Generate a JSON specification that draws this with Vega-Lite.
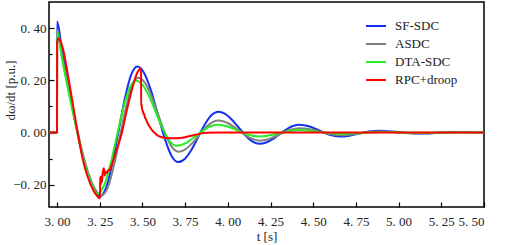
{
  "$schema": "https://vega.github.io/schema/vega-lite/v6.json",
  "autosize": "none",
  "width": 435,
  "height": 205,
  "padding": {"left": 49, "top": 2, "right": 21, "bottom": 38},
  "background": "white",
  "config": {
    "view": {"stroke": "black", "strokeWidth": 1.5},
    "font": "Liberation Serif, DejaVu Serif, serif",
    "axis": {
      "domain": false,
      "grid": false,
      "tickColor": "black",
      "tickWidth": 1.2,
      "labelFont": "Liberation Serif, DejaVu Serif, serif",
      "labelFontSize": 13,
      "labelColor": "#222222",
      "titleFont": "Liberation Serif, DejaVu Serif, serif",
      "titleFontSize": 13,
      "titleFontWeight": "normal",
      "titleColor": "#222222"
    },
    "legend": {
      "labelFont": "Liberation Serif, DejaVu Serif, serif",
      "labelFontSize": 13,
      "labelColor": "#222222"
    }
  },
  "data": {
    "values": [
      {"s": "SF-SDC", "t": 2.953, "v": 0},
      {"s": "SF-SDC", "t": 3.0, "v": 0},
      {"s": "SF-SDC", "t": 3.0005, "v": 0.425},
      {"s": "SF-SDC", "t": 3.03, "v": 0.31},
      {"s": "SF-SDC", "t": 3.06, "v": 0.2},
      {"s": "SF-SDC", "t": 3.09, "v": 0.095},
      {"s": "SF-SDC", "t": 3.12, "v": 0.0},
      {"s": "SF-SDC", "t": 3.15, "v": -0.085},
      {"s": "SF-SDC", "t": 3.18, "v": -0.155},
      {"s": "SF-SDC", "t": 3.21, "v": -0.207},
      {"s": "SF-SDC", "t": 3.235, "v": -0.236},
      {"s": "SF-SDC", "t": 3.25, "v": -0.245},
      {"s": "SF-SDC", "t": 3.2867, "v": -0.2116},
      {"s": "SF-SDC", "t": 3.3233, "v": -0.1205},
      {"s": "SF-SDC", "t": 3.36, "v": 0.004},
      {"s": "SF-SDC", "t": 3.3967, "v": 0.1285},
      {"s": "SF-SDC", "t": 3.4333, "v": 0.2196},
      {"s": "SF-SDC", "t": 3.47, "v": 0.253},
      {"s": "SF-SDC", "t": 3.51, "v": 0.2285},
      {"s": "SF-SDC", "t": 3.55, "v": 0.1615},
      {"s": "SF-SDC", "t": 3.59, "v": 0.07},
      {"s": "SF-SDC", "t": 3.63, "v": -0.0215},
      {"s": "SF-SDC", "t": 3.67, "v": -0.0885},
      {"s": "SF-SDC", "t": 3.71, "v": -0.113},
      {"s": "SF-SDC", "t": 3.749, "v": -0.1001},
      {"s": "SF-SDC", "t": 3.788, "v": -0.0648},
      {"s": "SF-SDC", "t": 3.827, "v": -0.0165},
      {"s": "SF-SDC", "t": 3.866, "v": 0.0318},
      {"s": "SF-SDC", "t": 3.905, "v": 0.0671},
      {"s": "SF-SDC", "t": 3.944, "v": 0.08},
      {"s": "SF-SDC", "t": 3.984, "v": 0.0718},
      {"s": "SF-SDC", "t": 4.024, "v": 0.0493},
      {"s": "SF-SDC", "t": 4.065, "v": 0.0185},
      {"s": "SF-SDC", "t": 4.105, "v": -0.0123},
      {"s": "SF-SDC", "t": 4.145, "v": -0.0348},
      {"s": "SF-SDC", "t": 4.185, "v": -0.043},
      {"s": "SF-SDC", "t": 4.224, "v": -0.0381},
      {"s": "SF-SDC", "t": 4.263, "v": -0.0248},
      {"s": "SF-SDC", "t": 4.3025, "v": -0.0065},
      {"s": "SF-SDC", "t": 4.342, "v": 0.0118},
      {"s": "SF-SDC", "t": 4.381, "v": 0.0251},
      {"s": "SF-SDC", "t": 4.42, "v": 0.03},
      {"s": "SF-SDC", "t": 4.479, "v": 0.0234},
      {"s": "SF-SDC", "t": 4.5375, "v": 0.0075},
      {"s": "SF-SDC", "t": 4.596, "v": -0.0084},
      {"s": "SF-SDC", "t": 4.655, "v": -0.015},
      {"s": "SF-SDC", "t": 4.7125, "v": -0.0118},
      {"s": "SF-SDC", "t": 4.77, "v": -0.004},
      {"s": "SF-SDC", "t": 4.8275, "v": 0.0038},
      {"s": "SF-SDC", "t": 4.885, "v": 0.007},
      {"s": "SF-SDC", "t": 4.944, "v": 0.0054},
      {"s": "SF-SDC", "t": 5.0025, "v": 0.0015},
      {"s": "SF-SDC", "t": 5.061, "v": -0.0024},
      {"s": "SF-SDC", "t": 5.12, "v": -0.004},
      {"s": "SF-SDC", "t": 5.179, "v": -0.0032},
      {"s": "SF-SDC", "t": 5.235, "v": -0.001},
      {"s": "SF-SDC", "t": 5.292, "v": 0.0012},
      {"s": "SF-SDC", "t": 5.35, "v": 0.002},
      {"s": "SF-SDC", "t": 5.43, "v": 0.001},
      {"s": "SF-SDC", "t": 5.5, "v": 0},

      {"s": "ASDC", "t": 2.953, "v": 0},
      {"s": "ASDC", "t": 3.0, "v": 0},
      {"s": "ASDC", "t": 3.0005, "v": 0.395},
      {"s": "ASDC", "t": 3.03, "v": 0.29},
      {"s": "ASDC", "t": 3.06, "v": 0.19},
      {"s": "ASDC", "t": 3.09, "v": 0.095},
      {"s": "ASDC", "t": 3.12, "v": 0.005},
      {"s": "ASDC", "t": 3.15, "v": -0.08},
      {"s": "ASDC", "t": 3.18, "v": -0.148},
      {"s": "ASDC", "t": 3.21, "v": -0.2},
      {"s": "ASDC", "t": 3.24, "v": -0.232},
      {"s": "ASDC", "t": 3.262, "v": -0.24},
      {"s": "ASDC", "t": 3.2975, "v": -0.2099},
      {"s": "ASDC", "t": 3.333, "v": -0.1275},
      {"s": "ASDC", "t": 3.3685, "v": -0.015},
      {"s": "ASDC", "t": 3.404, "v": 0.0975},
      {"s": "ASDC", "t": 3.4395, "v": 0.1799},
      {"s": "ASDC", "t": 3.475, "v": 0.21},
      {"s": "ASDC", "t": 3.514, "v": 0.191},
      {"s": "ASDC", "t": 3.553, "v": 0.1393},
      {"s": "ASDC", "t": 3.5925, "v": 0.0685},
      {"s": "ASDC", "t": 3.632, "v": -0.0023},
      {"s": "ASDC", "t": 3.671, "v": -0.054},
      {"s": "ASDC", "t": 3.71, "v": -0.073},
      {"s": "ASDC", "t": 3.749, "v": -0.065},
      {"s": "ASDC", "t": 3.788, "v": -0.0433},
      {"s": "ASDC", "t": 3.827, "v": -0.0135},
      {"s": "ASDC", "t": 3.866, "v": 0.0163},
      {"s": "ASDC", "t": 3.905, "v": 0.038},
      {"s": "ASDC", "t": 3.944, "v": 0.046},
      {"s": "ASDC", "t": 4.004, "v": 0.0347},
      {"s": "ASDC", "t": 4.065, "v": 0.0075},
      {"s": "ASDC", "t": 4.125, "v": -0.0197},
      {"s": "ASDC", "t": 4.185, "v": -0.031},
      {"s": "ASDC", "t": 4.244, "v": -0.024},
      {"s": "ASDC", "t": 4.3025, "v": -0.007},
      {"s": "ASDC", "t": 4.361, "v": 0.01},
      {"s": "ASDC", "t": 4.42, "v": 0.017},
      {"s": "ASDC", "t": 4.479, "v": 0.0131},
      {"s": "ASDC", "t": 4.5375, "v": 0.0035},
      {"s": "ASDC", "t": 4.596, "v": -0.006},
      {"s": "ASDC", "t": 4.655, "v": -0.01},
      {"s": "ASDC", "t": 4.7125, "v": -0.008},
      {"s": "ASDC", "t": 4.77, "v": -0.003},
      {"s": "ASDC", "t": 4.8275, "v": 0.002},
      {"s": "ASDC", "t": 4.885, "v": 0.004},
      {"s": "ASDC", "t": 5.0, "v": 0.0005},
      {"s": "ASDC", "t": 5.12, "v": -0.003},
      {"s": "ASDC", "t": 5.235, "v": -0.001},
      {"s": "ASDC", "t": 5.35, "v": 0.001},
      {"s": "ASDC", "t": 5.5, "v": 0},

      {"s": "DTA-SDC", "t": 2.953, "v": 0},
      {"s": "DTA-SDC", "t": 3.0, "v": 0},
      {"s": "DTA-SDC", "t": 3.0005, "v": 0.385},
      {"s": "DTA-SDC", "t": 3.03, "v": 0.28},
      {"s": "DTA-SDC", "t": 3.06, "v": 0.18},
      {"s": "DTA-SDC", "t": 3.09, "v": 0.085},
      {"s": "DTA-SDC", "t": 3.12, "v": -0.005},
      {"s": "DTA-SDC", "t": 3.15, "v": -0.09},
      {"s": "DTA-SDC", "t": 3.18, "v": -0.16},
      {"s": "DTA-SDC", "t": 3.21, "v": -0.21},
      {"s": "DTA-SDC", "t": 3.235, "v": -0.235},
      {"s": "DTA-SDC", "t": 3.2728, "v": -0.206},
      {"s": "DTA-SDC", "t": 3.3107, "v": -0.1268},
      {"s": "DTA-SDC", "t": 3.3485, "v": -0.0185},
      {"s": "DTA-SDC", "t": 3.3863, "v": 0.0898},
      {"s": "DTA-SDC", "t": 3.4242, "v": 0.169},
      {"s": "DTA-SDC", "t": 3.462, "v": 0.198},
      {"s": "DTA-SDC", "t": 3.5017, "v": 0.1814},
      {"s": "DTA-SDC", "t": 3.5413, "v": 0.136},
      {"s": "DTA-SDC", "t": 3.581, "v": 0.074},
      {"s": "DTA-SDC", "t": 3.6207, "v": 0.012},
      {"s": "DTA-SDC", "t": 3.6603, "v": -0.0334},
      {"s": "DTA-SDC", "t": 3.70, "v": -0.05},
      {"s": "DTA-SDC", "t": 3.76, "v": -0.0383},
      {"s": "DTA-SDC", "t": 3.82, "v": -0.01},
      {"s": "DTA-SDC", "t": 3.88, "v": 0.0183},
      {"s": "DTA-SDC", "t": 3.94, "v": 0.03},
      {"s": "DTA-SDC", "t": 4.0, "v": 0.0234},
      {"s": "DTA-SDC", "t": 4.06, "v": 0.0075},
      {"s": "DTA-SDC", "t": 4.12, "v": -0.0084},
      {"s": "DTA-SDC", "t": 4.18, "v": -0.015},
      {"s": "DTA-SDC", "t": 4.24, "v": -0.0113},
      {"s": "DTA-SDC", "t": 4.30, "v": -0.0025},
      {"s": "DTA-SDC", "t": 4.36, "v": 0.0063},
      {"s": "DTA-SDC", "t": 4.42, "v": 0.01},
      {"s": "DTA-SDC", "t": 4.4788, "v": 0.0066},
      {"s": "DTA-SDC", "t": 4.5375, "v": 0.0025},
      {"s": "DTA-SDC", "t": 4.596, "v": -0.0015},
      {"s": "DTA-SDC", "t": 4.655, "v": -0.005},
      {"s": "DTA-SDC", "t": 4.78, "v": -0.0015},
      {"s": "DTA-SDC", "t": 4.9, "v": 0.002},
      {"s": "DTA-SDC", "t": 5.1, "v": -0.001},
      {"s": "DTA-SDC", "t": 5.3, "v": 0},
      {"s": "DTA-SDC", "t": 5.5, "v": 0},

      {"s": "RPC+droop", "t": 2.953, "v": 0},
      {"s": "RPC+droop", "t": 3.0, "v": 0},
      {"s": "RPC+droop", "t": 3.0005, "v": 0.345},
      {"s": "RPC+droop", "t": 3.01, "v": 0.362},
      {"s": "RPC+droop", "t": 3.02, "v": 0.35},
      {"s": "RPC+droop", "t": 3.035, "v": 0.32},
      {"s": "RPC+droop", "t": 3.045, "v": 0.29},
      {"s": "RPC+droop", "t": 3.06, "v": 0.235},
      {"s": "RPC+droop", "t": 3.09, "v": 0.12},
      {"s": "RPC+droop", "t": 3.118, "v": 0.01},
      {"s": "RPC+droop", "t": 3.15, "v": -0.1},
      {"s": "RPC+droop", "t": 3.18, "v": -0.17},
      {"s": "RPC+droop", "t": 3.213, "v": -0.222},
      {"s": "RPC+droop", "t": 3.235, "v": -0.243},
      {"s": "RPC+droop", "t": 3.252, "v": -0.252},
      {"s": "RPC+droop", "t": 3.2525, "v": -0.17},
      {"s": "RPC+droop", "t": 3.256, "v": -0.2},
      {"s": "RPC+droop", "t": 3.259, "v": -0.168},
      {"s": "RPC+droop", "t": 3.263, "v": -0.19},
      {"s": "RPC+droop", "t": 3.268, "v": -0.15},
      {"s": "RPC+droop", "t": 3.275, "v": -0.137},
      {"s": "RPC+droop", "t": 3.279, "v": -0.165},
      {"s": "RPC+droop", "t": 3.285, "v": -0.15},
      {"s": "RPC+droop", "t": 3.292, "v": -0.155},
      {"s": "RPC+droop", "t": 3.3, "v": -0.143},
      {"s": "RPC+droop", "t": 3.307, "v": -0.145},
      {"s": "RPC+droop", "t": 3.314, "v": -0.135},
      {"s": "RPC+droop", "t": 3.33, "v": -0.105},
      {"s": "RPC+droop", "t": 3.35, "v": -0.065},
      {"s": "RPC+droop", "t": 3.38, "v": 0.0},
      {"s": "RPC+droop", "t": 3.4, "v": 0.06},
      {"s": "RPC+droop", "t": 3.423, "v": 0.125},
      {"s": "RPC+droop", "t": 3.445, "v": 0.18},
      {"s": "RPC+droop", "t": 3.465, "v": 0.222},
      {"s": "RPC+droop", "t": 3.478, "v": 0.238},
      {"s": "RPC+droop", "t": 3.488, "v": 0.244},
      {"s": "RPC+droop", "t": 3.492, "v": 0.24},
      {"s": "RPC+droop", "t": 3.4925, "v": 0.1},
      {"s": "RPC+droop", "t": 3.495, "v": 0.11},
      {"s": "RPC+droop", "t": 3.497, "v": 0.095},
      {"s": "RPC+droop", "t": 3.5, "v": 0.085},
      {"s": "RPC+droop", "t": 3.504, "v": 0.08},
      {"s": "RPC+droop", "t": 3.506, "v": 0.07},
      {"s": "RPC+droop", "t": 3.51, "v": 0.072},
      {"s": "RPC+droop", "t": 3.514, "v": 0.06},
      {"s": "RPC+droop", "t": 3.521, "v": 0.05},
      {"s": "RPC+droop", "t": 3.528, "v": 0.04},
      {"s": "RPC+droop", "t": 3.535, "v": 0.03},
      {"s": "RPC+droop", "t": 3.545, "v": 0.02},
      {"s": "RPC+droop", "t": 3.555, "v": 0.01},
      {"s": "RPC+droop", "t": 3.57, "v": 0.0},
      {"s": "RPC+droop", "t": 3.585, "v": -0.009},
      {"s": "RPC+droop", "t": 3.61, "v": -0.017},
      {"s": "RPC+droop", "t": 3.64, "v": -0.021},
      {"s": "RPC+droop", "t": 3.68, "v": -0.022},
      {"s": "RPC+droop", "t": 3.72, "v": -0.021},
      {"s": "RPC+droop", "t": 3.76, "v": -0.016},
      {"s": "RPC+droop", "t": 3.8, "v": -0.01},
      {"s": "RPC+droop", "t": 3.84, "v": -0.004},
      {"s": "RPC+droop", "t": 3.88, "v": -0.001},
      {"s": "RPC+droop", "t": 3.95, "v": 0.0},
      {"s": "RPC+droop", "t": 4.2, "v": 0.0},
      {"s": "RPC+droop", "t": 5.5, "v": 0.0}
    ]
  },
  "mark": {"type": "line", "interpolate": "monotone", "strokeWidth": 2, "clip": true},
  "encoding": {
    "x": {
      "field": "t",
      "type": "quantitative",
      "scale": {"domain": [2.953, 5.5], "nice": false, "zero": false},
      "axis": {
        "title": "t [s]",
        "values": [3, 3.25, 3.5, 3.75, 4, 4.25, 4.5, 4.75, 5, 5.25, 5.5],
        "labelExpr": "replace(format(datum.value, '.2f'), '.', '. ')",
        "tickSize": -5,
        "labelPadding": 13,
        "titleBaseline": "middle",
        "titleY": 29
      }
    },
    "y": {
      "field": "v",
      "type": "quantitative",
      "scale": {"domain": [-0.285, 0.5], "nice": false, "zero": false},
      "axis": {
        "title": "dω/dt [p.u.]",
        "values": [-0.2, -0.1, 0, 0.1, 0.2, 0.3, 0.4],
        "labelExpr": "abs(round(datum.value * 10)) % 2 == 0 ? replace(format(datum.value, '.2f'), '.', '. ') : ''",
        "tickSize": {"condition": {"test": "abs(round(datum.value * 10)) % 2 == 1", "value": -3}, "value": -5},
        "labelPadding": 8,
        "titleBaseline": "middle",
        "titleX": -39,
        "titleY": 88
      }
    },
    "color": {
      "field": "s",
      "type": "nominal",
      "sort": ["SF-SDC", "ASDC", "DTA-SDC", "RPC+droop"],
      "scale": {
        "domain": ["SF-SDC", "ASDC", "DTA-SDC", "RPC+droop"],
        "range": ["#1530f0", "#808080", "#22ee22", "#ff0000"]
      },
      "legend": {
        "title": null,
        "orient": "none",
        "legendX": 316,
        "legendY": 13,
        "symbolType": "stroke",
        "symbolSize": 400,
        "symbolStrokeWidth": 2,
        "labelOffset": 8,
        "rowPadding": -1,
        "padding": 0
      }
    }
  }
}
